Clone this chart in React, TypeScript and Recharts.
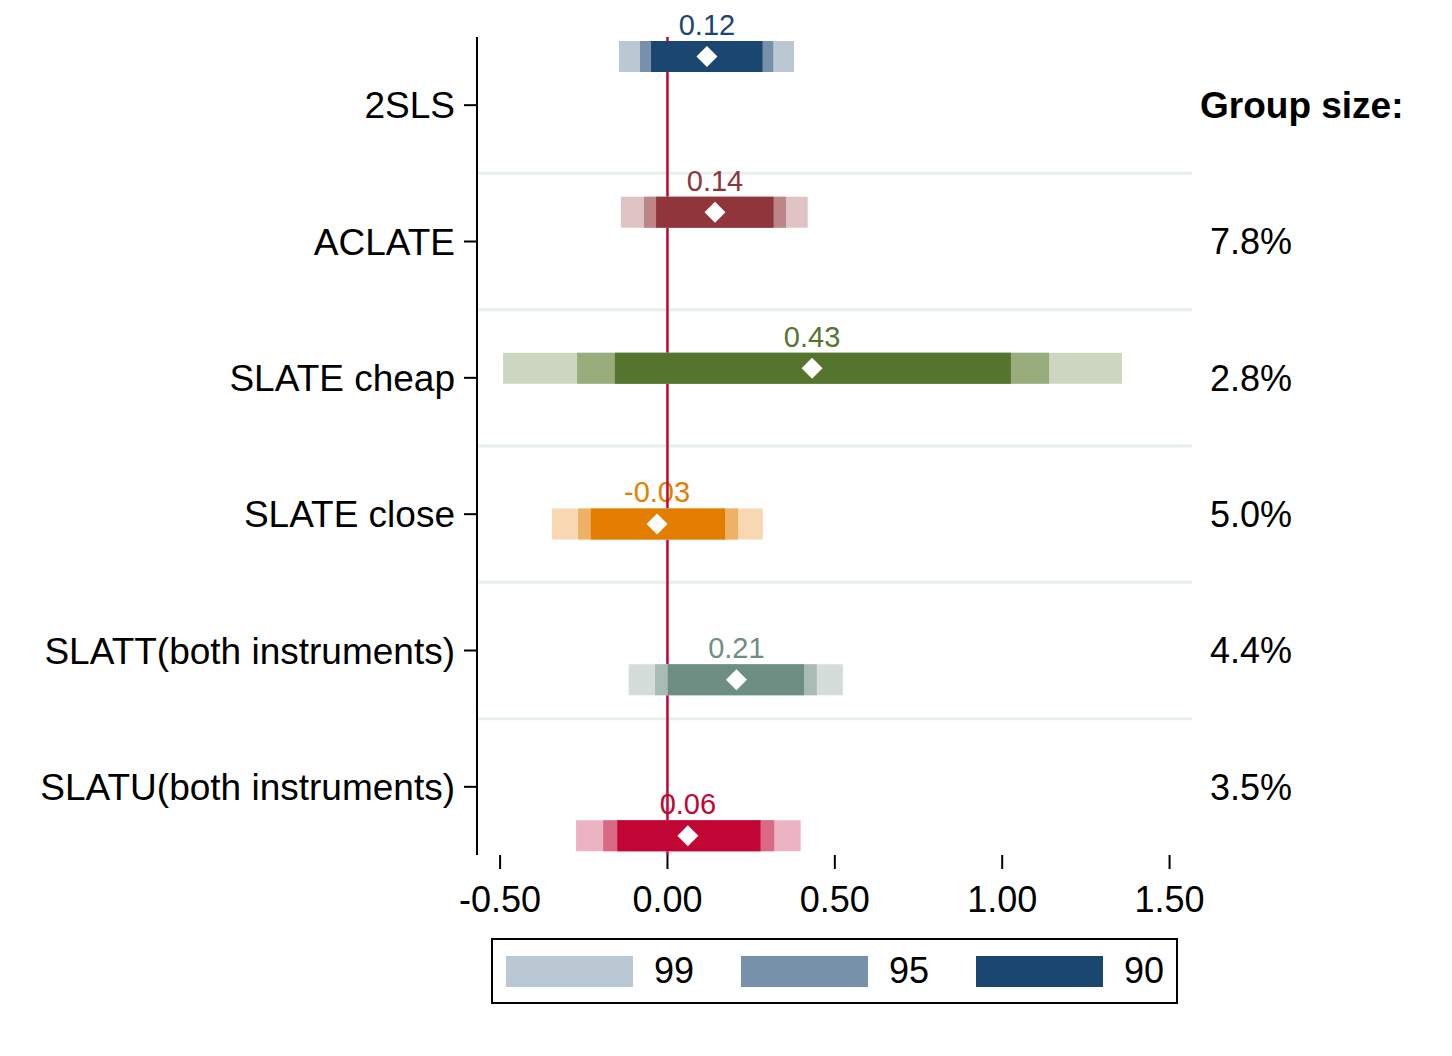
import React from 'react';
import {ScatterChart, Scatter, XAxis, YAxis, ReferenceLine} from 'recharts';

// estimates and confidence bounds per group
const categories = ['2SLS', 'ACLATE', 'SLATE cheap', 'SLATE close', 'SLATT(both instruments)', 'SLATU(both instruments)'];
const estimates = [0.118, 0.142, 0.432, -0.031, 0.206, 0.061];
const lo99 = [-0.145, -0.139, -0.491, -0.345, -0.116, -0.273];
const hi99 = [0.378, 0.419, 1.358, 0.285, 0.524, 0.398];
const lo95 = [-0.082, -0.070, -0.270, -0.267, -0.037, -0.192];
const hi95 = [0.316, 0.354, 1.140, 0.211, 0.446, 0.319];
const lo90 = [-0.049, -0.034, -0.157, -0.229, 0.001, -0.150];
const hi90 = [0.284, 0.317, 1.026, 0.172, 0.408, 0.278];
const groupHeader = 'Group size:';
const groupSizes = ['7.8%', '2.8%', '5.0%', '4.4%', '3.5%'];
const levels = ['99', '95', '90'];
const xTicks = [-0.5, 0, 0.5, 1, 1.5];

const palette = [
  {c90: '#1a476f', c95: '#7691a9', c99: '#bac8d4'},
  {c90: '#90353b', c95: '#bc8689', c99: '#dec2c4'},
  {c90: '#55752f', c95: '#99ac7c', c99: '#ccd6c1'},
  {c90: '#e37e00', c95: '#eeb266', c99: '#f7d8b3'},
  {c90: '#6e8e84', c95: '#a8bbb5', c99: '#d4ddda'},
  {c90: '#c10534', c95: '#da6985', c99: '#ecb4c2'},
];

const FONT = '"Liberation Sans", Arial, sans-serif';
const rowY = (i: number) => 0.643 + i * 1.143;

const rows = categories.map((name, i) => ({x: estimates[i], y: rowY(i), i}));
const zeroLine = [{x: 0, y: 0.5}, {x: 0, y: 6.5}];

const Nothing = () => <g />;

const Diamond = (props: any) => {
  const {cx, cy} = props;
  const s = 10.5;
  return <polygon points={`${cx},${cy - s} ${cx + s},${cy} ${cx},${cy + s} ${cx - s},${cy}`} fill="#fff" />;
};

const ValueLabel = (props: any) => {
  const {cx, cy, payload} = props;
  return (
    <text x={cx} y={cy - 21.5} textAnchor="middle" fontSize={29} fontFamily={FONT} fill={palette[payload.i].c90}>
      {payload.x.toFixed(2)}
    </text>
  );
};

const RightTick = (props: any) => {
  const {x, y, payload} = props;
  if (payload.value === 1) {
    return <text x={x + 6} y={y} dy="0.355em" fontSize={37} fontWeight="bold" fontFamily={FONT} fill="#000">{groupHeader}</text>;
  }
  return <text x={x + 16} y={y} dy="0.355em" fontSize={36} fontFamily={FONT} fill="#000">{groupSizes[payload.value - 2]}</text>;
};

export default function App() {
  const legendColors = [palette[0].c99, palette[0].c95, palette[0].c90];
  // each interval band is a two-point scatter joined by a thick line
  const bands: {key: string; data: {x: number; y: number}[]; color: string}[] = [];
  categories.forEach((c, i) => {
    const y = rowY(i);
    bands.push({key: c + '99', data: [{x: lo99[i], y}, {x: hi99[i], y}], color: palette[i].c99});
    bands.push({key: c + '95', data: [{x: lo95[i], y}, {x: hi95[i], y}], color: palette[i].c95});
    bands.push({key: c + '90', data: [{x: lo90[i], y}, {x: hi90[i], y}], color: palette[i].c90});
  });
  return (
    <div style={{position: 'relative', width: 1436, height: 1000, fontFamily: FONT, background: '#fff'}}>
      <ScatterChart width={1436} height={930} margin={{top: 29, right: 0, bottom: 0, left: 0}}>
        <XAxis type="number" dataKey="x" domain={[-0.569, 1.567]} ticks={xTicks}
          tickFormatter={(v: number) => v.toFixed(2)} axisLine={false} height={83}
          tickLine={{stroke: '#000', strokeWidth: 2}} tickSize={14} tickMargin={17}
          tick={{fontSize: 36, fill: '#000', fontFamily: FONT}} interval={0} />
        <YAxis yAxisId="left" type="number" dataKey="y" domain={[0.5, 6.5]} reversed
          ticks={[1, 2, 3, 4, 5, 6]} interval={0} width={469}
          tickFormatter={(v: number) => categories[v - 1]}
          axisLine={{stroke: '#000', strokeWidth: 2}} tickLine={{stroke: '#000', strokeWidth: 2}}
          tickSize={13} tickMargin={9} tick={{fontSize: 37, fill: '#000', fontFamily: FONT}} />
        <YAxis yAxisId="right" orientation="right" type="number" domain={[0.5, 6.5]} reversed allowDataOverflow
          ticks={[1, 2, 3, 4, 5, 6]} interval={0} width={252} axisLine={false} tickLine={false}
          tickSize={0} tick={<RightTick />} />
        {[1.5, 2.5, 3.5, 4.5, 5.5].map((v) => (
          <ReferenceLine key={v} yAxisId="left" y={v} stroke="#e8eff1" strokeWidth={3} />
        ))}
        <Scatter yAxisId="left" data={rows} shape={<ValueLabel />} isAnimationActive={false} />
        <Scatter yAxisId="left" data={zeroLine} shape={<Nothing />} line={{stroke: '#c10534', strokeWidth: 2.5}}
          fill="#c10534" isAnimationActive={false} />
        {bands.map((b) => (
          <Scatter key={b.key} yAxisId="left" data={b.data} shape={<Nothing />} fill={b.color}
            line={{stroke: b.color, strokeWidth: 31}} isAnimationActive={false} />
        ))}
        <Scatter yAxisId="left" data={rows} shape={<Diamond />} isAnimationActive={false} />
      </ScatterChart>
      <div style={{position: 'absolute', left: 483, top: 930, width: 687, height: 66, boxSizing: 'border-box',
        border: '2px solid #000', display: 'flex', alignItems: 'center', paddingLeft: 13}}>
        {levels.map((lv, k) => (
          <div key={lv} style={{display: 'flex', alignItems: 'center', marginRight: 47}}>
            <div style={{width: 127, height: 31, background: legendColors[k], marginRight: 21}} />
            <span style={{fontSize: 36, lineHeight: 1}}>{lv}</span>
          </div>
        ))}
      </div>
    </div>
  );
}
